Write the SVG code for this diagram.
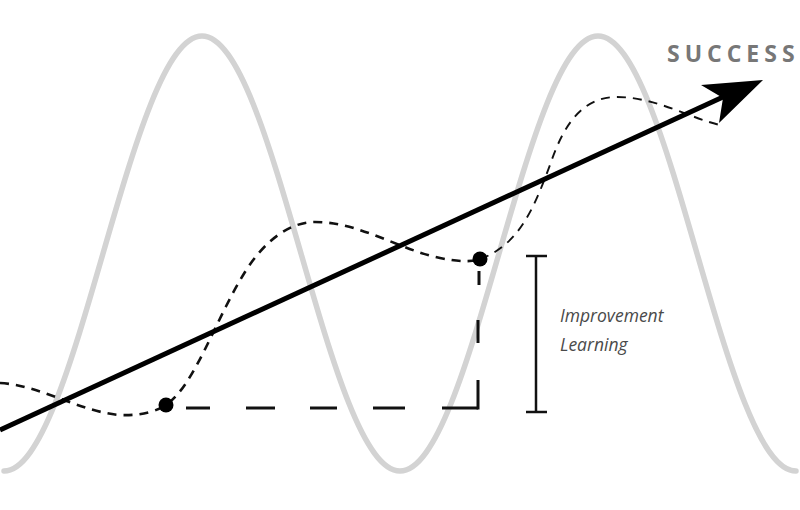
<svg xmlns="http://www.w3.org/2000/svg" width="800" height="510" viewBox="0 0 800 510">
<style>
.wave{fill:none;stroke:#d3d3d3;stroke-width:5.5;stroke-linecap:round}
.curve{fill:none;stroke:#111;stroke-dasharray:9 7}
.step{stroke:#111;stroke-width:3}
.trend{fill:none;stroke:#000;stroke-width:5}
.dot{fill:#000}
.brk{stroke:#111;stroke-width:2.5}
.lbl{font-family:"Open Sans","Liberation Sans",sans-serif;font-style:italic;font-size:17.5px;fill:#4a4a4a}
.title{font-family:"Open Sans","Liberation Sans",sans-serif;font-weight:bold;font-size:23px;fill:#777;letter-spacing:5px}
</style>
<rect width="800" height="510" fill="#fff"/>
<g id="wave">
<path class="wave" d="M4,471 C76,471 130,36 202,36 C274,36 328,471 400,471 C472,471 526,36 598,36 C670,36 724,471 796,471"/>
</g>
<g id="connectors">
<path class="curve" stroke-width="2.6" d="M0,383 C40,385 80,412 120,415 C145,416 158,410 166,405 C195,385 215,320 245,272 C265,240 290,222 315,222 C360,222 400,250 440,258 C460,262 472,262 480,259"/>
<path class="curve" stroke-width="1.9" d="M480,259 C520,245 535,205 550,165 C565,120 585,97 617,97 C655,97 690,118 720,125"/>
<g id="step">
<line class="step" x1="186" y1="408" x2="210" y2="408"/>
<line class="step" x1="246" y1="408" x2="275" y2="408"/>
<line class="step" x1="310" y1="408" x2="337" y2="408"/>
<line class="step" x1="373" y1="408" x2="405" y2="408"/>
<line class="step" x1="442" y1="408" x2="478" y2="408"/>
<line class="step" x1="478" y1="409.5" x2="478" y2="380"/>
<line class="step" x1="478" y1="343" x2="478" y2="320"/>
<line class="step" x1="479" y1="285" x2="479" y2="271"/>
</g>
<g id="trend">
<path class="trend" d="M0,430 L723,97"/>
<polygon fill="#000" points="763,80 701,85 723,98 719,123"/>
</g>
</g>
<g id="point-start"><circle class="dot" cx="166" cy="405" r="7.5"/></g>
<g id="point-end"><circle class="dot" cx="480" cy="259" r="7.5"/></g>
<g id="bracket">
<line class="brk" x1="536" y1="256" x2="536" y2="412"/>
<line class="brk" x1="526" y1="256" x2="547" y2="256"/>
<line class="brk" x1="526" y1="412" x2="547" y2="412"/>
</g>
<g id="labels">
<text class="lbl" x="560" y="322">Improvement</text>
<text class="lbl" x="560" y="351">Learning</text>
</g>
<g id="success">
<text class="title" x="667" y="62">SUCCESS</text>
</g>
</svg>
